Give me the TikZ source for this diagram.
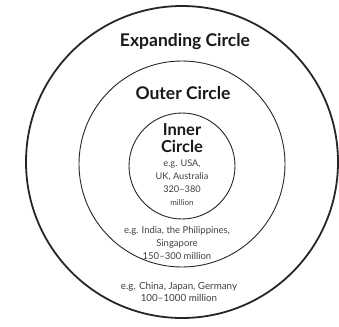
\documentclass[tikz,border=0pt]{standalone}
\usepackage{fontspec}
\setmainfont{Lato}
\begin{document}
\begin{tikzpicture}[x=1pt,y=-1pt,
  ring/.style={draw=black!85},
  title/.style={font=\bfseries\fontsize{17.5}{19}\selectfont, text=black!90, inner sep=0pt},
  small/.style={font=\fontsize{9.5}{11}\selectfont, text=black!75, align=center, inner sep=0pt}]
\useasboundingbox (0,0) rectangle (339,326);
\draw[ring, line width=1.8pt] (182,162) circle[radius=156];
\draw[ring, line width=0.9pt] (182,164) circle[radius=103];
\draw[ring, line width=0.9pt] (182,166) circle[radius=53];
\node[title] (exp) at (185,42) {Expanding Circle};
\node[title] (out) at (183,93) {Outer Circle};
\node[title, align=center, font=\bfseries\fontsize{16.5}{17.5}\selectfont] (inn) at (182,138) {Inner\\Circle};
\node[small, font=\fontsize{9.2}{13}\selectfont] (inntxt) at (182,183) {e.g. USA,\\UK, Australia\\320–380\\{\fontsize{8}{8}\selectfont million}};
\node[small, font=\fontsize{9.5}{13}\selectfont] (outtxt) at (177,243) {e.g. India, the Philippines,\\Singapore\\150–300 million};
\node[small, font=\fontsize{9.8}{12}\selectfont] (exptxt) at (179,292) {e.g. China, Japan, Germany\\100–1000 million};
\end{tikzpicture}
\end{document}
